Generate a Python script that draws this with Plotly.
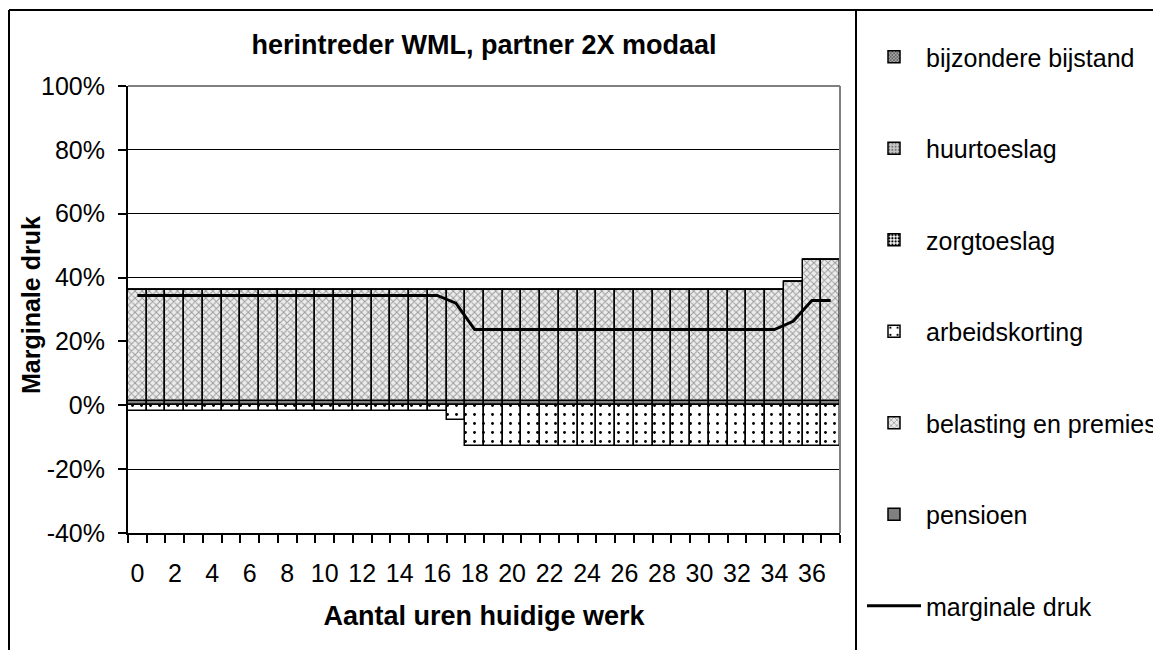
import plotly.graph_objects as go

# ---- data ----
hours = [str(h) for h in range(38)]
tick_labels = ["0", "", "2", "", "4", "", "6", "", "8", "", "10", "", "12", "", "14", "", "16", "",
               "18", "", "20", "", "22", "", "24", "", "26", "", "28", "", "30", "", "32", "", "34", "",
               "36", ""]
y_ticks = [-40, -20, 0, 20, 40, 60, 80, 100]
y_tick_labels = ["-40%", "-20%", "0%", "20%", "40%", "60%", "80%", "100%"]

pensioen = [1.3, 1.3, 1.3, 1.3, 1.3, 1.3, 1.3, 1.3, 1.3, 1.3, 1.3, 1.3, 1.3, 1.3, 1.3, 1.3, 1.3, 1.3, 1.3,
            1.3, 1.3, 1.3, 1.3, 1.3, 1.3, 1.3, 1.3, 1.3, 1.3, 1.3, 1.3, 1.3, 1.3, 1.3, 1.3, 1.3, 1.3, 1.3]
belasting = [34.7, 34.7, 34.7, 34.7, 34.7, 34.7, 34.7, 34.7, 34.7, 34.7, 34.7, 34.7, 34.7, 34.7, 34.7, 34.7,
             34.7, 34.7, 34.7, 34.7, 34.7, 34.7, 34.7, 34.7, 34.7, 34.7, 34.7, 34.7, 34.7, 34.7, 34.7, 34.7,
             34.7, 34.7, 34.7, 37.2, 44.2, 44.2]
arbeidskorting = [-1.7, -1.7, -1.7, -1.7, -1.7, -1.7, -1.7, -1.7, -1.7, -1.7, -1.7, -1.7, -1.7, -1.7, -1.7,
                  -1.7, -1.7, -4.7, -12.8, -12.8, -12.8, -12.8, -12.8, -12.8, -12.8, -12.8, -12.8, -12.8,
                  -12.8, -12.8, -12.8, -12.8, -12.8, -12.8, -12.8, -12.8, -12.8, -12.8]
zorgtoeslag = [0] * 38
huurtoeslag = [0] * 38
bijzondere_bijstand = [0] * 38
marginale_druk = [34.4, 34.4, 34.4, 34.4, 34.4, 34.4, 34.4, 34.4, 34.4, 34.4, 34.4, 34.4, 34.4, 34.4, 34.4,
                  34.4, 34.4, 32.0, 23.7, 23.7, 23.7, 23.7, 23.7, 23.7, 23.7, 23.7, 23.7, 23.7, 23.7, 23.7,
                  23.7, 23.7, 23.7, 23.7, 23.7, 26.3, 32.8, 32.8]

FONT = "Liberation Sans, Arial, sans-serif"
outline = dict(color="black", width=1.5)

fig = go.Figure()

def add_bar(name, vals, rank, pattern, color):
    fig.add_trace(go.Bar(
        x=hours, y=vals, name=name, legendgroup=name, legendrank=rank,
        marker=dict(color=color, line=outline, pattern=pattern),
        hoverinfo="skip",
    ))

add_bar("pensioen", pensioen, 6, dict(shape=""), "#808080")
add_bar("belasting en premies", belasting, 5,
        dict(shape="x", fgcolor="#9a9a9a", bgcolor="#ececec", size=5, solidity=0.35, fillmode="replace"),
        "#ececec")
add_bar("arbeidskorting", arbeidskorting, 4,
        dict(shape=".", fgcolor="#000000", bgcolor="#ffffff", size=9, solidity=0.08, fillmode="replace"),
        "#ffffff")
add_bar("zorgtoeslag", zorgtoeslag, 3,
        dict(shape=".", fgcolor="#000000", bgcolor="#ffffff", size=4, solidity=0.45, fillmode="replace"),
        "#ffffff")
add_bar("huurtoeslag", huurtoeslag, 2,
        dict(shape=".", fgcolor="#707070", bgcolor="#c8c8c8", size=4, solidity=0.3, fillmode="replace"),
        "#c8c8c8")
add_bar("bijzondere bijstand", bijzondere_bijstand, 1,
        dict(shape="x", fgcolor="#404040", bgcolor="#a8a8a8", size=3, solidity=0.4, fillmode="replace"),
        "#a8a8a8")

fig.add_trace(go.Scatter(
    x=hours, y=marginale_druk, name="marginale druk", legendgroup="marginale druk", legendrank=7,
    mode="lines", line=dict(color="black", width=3), hoverinfo="skip",
))

# geometry of plot area (px)
L, R, T, B = 128, 840, 86, 533
W, H = 1153, 650

def px_x(x):
    return (x - L) / (R - L)

def px_y(y):
    return 1 - (y - T) / (B - T)

shapes = [
    dict(type="line", xref="paper", yref="paper", x0=0, x1=1, y0=1, y1=1,
         line=dict(color="#808080", width=2), layer="above"),
    dict(type="line", xref="paper", yref="paper", x0=1, x1=1, y0=0, y1=1,
         line=dict(color="#808080", width=2), layer="above"),
    dict(type="line", xref="paper", yref="paper", x0=px_x(9), x1=px_x(1160), y0=px_y(10), y1=px_y(10),
         line=dict(color="black", width=2)),
    dict(type="line", xref="paper", yref="paper", x0=px_x(9), x1=px_x(9), y0=px_y(10), y1=px_y(660),
         line=dict(color="black", width=2)),
    dict(type="line", xref="paper", yref="paper", x0=px_x(856), x1=px_x(856), y0=px_y(10), y1=px_y(660),
         line=dict(color="black", width=2)),
]

annotations = [
    dict(text="Marginale druk", textangle=-90, xref="paper", yref="paper",
         x=px_x(31), y=px_y(305), xanchor="center", yanchor="middle", showarrow=False,
         font=dict(family=FONT, size=25, weight="bold", color="black")),
]

fig.update_layout(
    width=W, height=H,
    margin=dict(l=L, r=W - R, t=T, b=H - B, autoexpand=False),
    barmode="relative", bargap=0,
    paper_bgcolor="white", plot_bgcolor="white",
    font=dict(family=FONT, size=25, color="black"),
    title=dict(text="herintreder WML, partner 2X modaal", x=0.5, xref="paper", xanchor="center",
               y=1 - 45 / H, yref="container", yanchor="middle",
               font=dict(family=FONT, size=27, weight="bold", color="black")),
    legend=dict(x=px_x(862), y=px_y(34), xanchor="left", yanchor="top", xref="paper", yref="paper",
                traceorder="grouped", tracegroupgap=56, itemwidth=54, maxheight=700,
                font=dict(family=FONT, size=25, color="black"), bgcolor="rgba(0,0,0,0)",
                itemclick=False, itemdoubleclick=False),
    shapes=shapes,
    annotations=annotations,
    showlegend=True,
)

fig.update_xaxes(
    type="category", tickmode="array", tickvals=hours, ticktext=tick_labels, tickson="boundaries",
    ticks="outside", ticklen=8, tickwidth=2, tickcolor="black", showline=True, linecolor="black",
    linewidth=2, showgrid=False, ticklabelstandoff=17, tickangle=0,
    tickfont=dict(family=FONT, size=25, color="black"),
    title=dict(text="Aantal uren huidige werk", standoff=20,
               font=dict(family=FONT, size=27, weight="bold", color="black")),
    fixedrange=True,
)
fig.update_yaxes(
    range=[-40, 100], tickmode="array", tickvals=y_ticks, ticktext=y_tick_labels,
    ticks="outside", ticklen=8, tickwidth=2,
    tickcolor="black", showline=True, linecolor="black", linewidth=2,
    showgrid=True, gridcolor="black", gridwidth=1, zeroline=True, zerolinecolor="black", zerolinewidth=1,
    ticklabelstandoff=8, tickfont=dict(family=FONT, size=25, color="black"),
    fixedrange=True,
)

fig.write_html("out.html", config={"displayModeBar": False},
               post_script="document.body.style.margin='0';document.body.style.overflow='hidden';")
